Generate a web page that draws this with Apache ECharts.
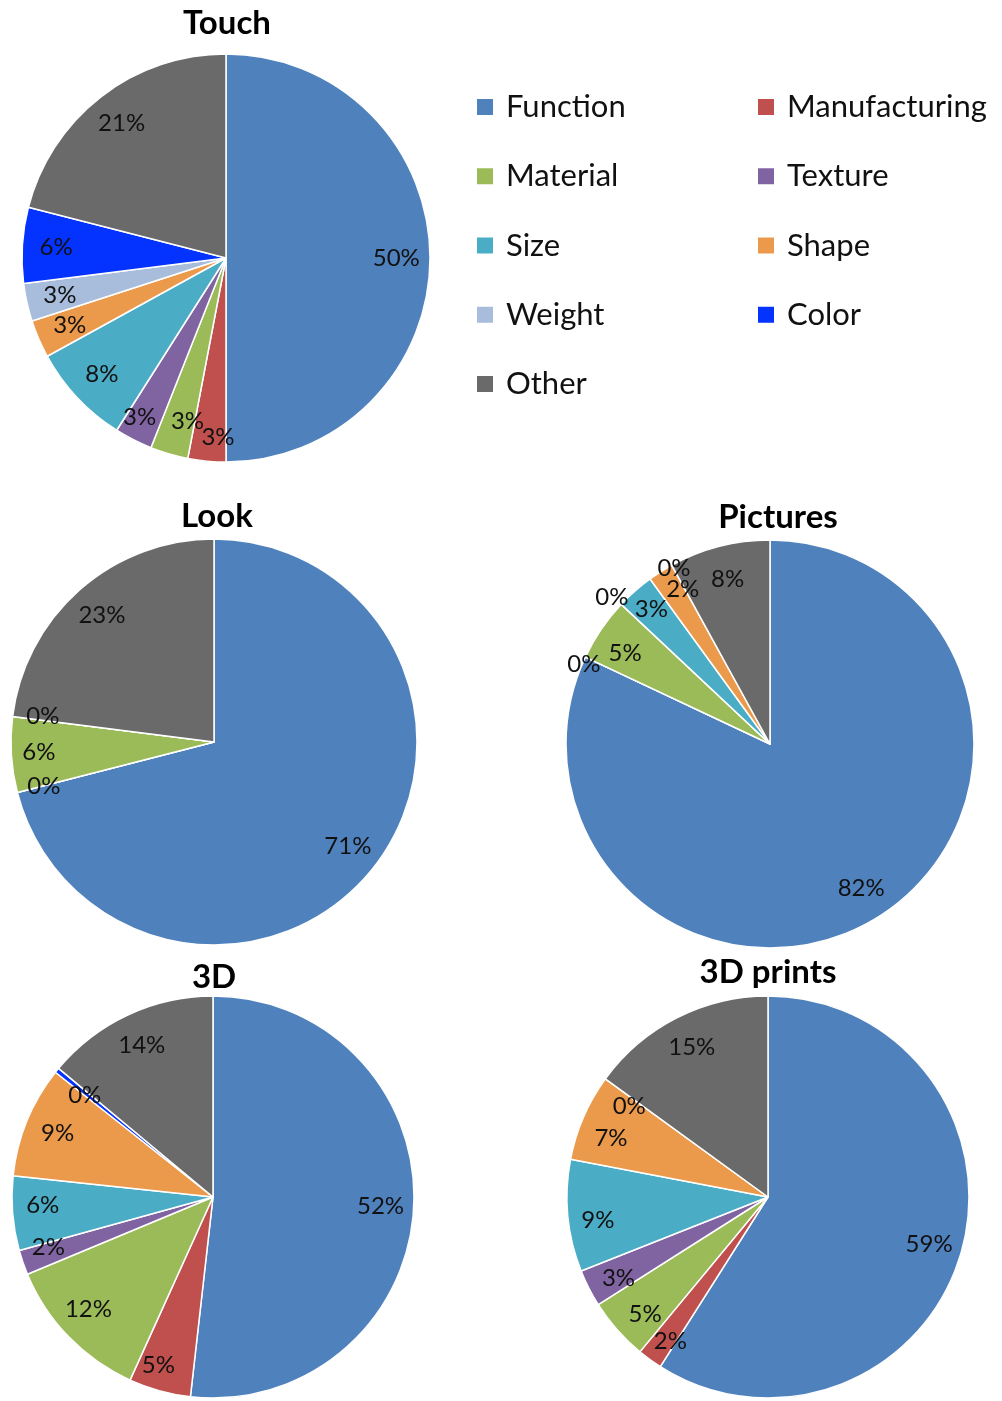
<!DOCTYPE html>
<html>
<head>
<meta charset="utf-8">
<script src="https://cdn.jsdelivr.net/npm/echarts@6/dist/echarts.min.js"></script>
<style>
html,body{margin:0;padding:0;background:#fff;}
#chart{width:1002px;height:1401px;}
</style>
</head>
<body>
<div id="chart"></div>
<script>
// ---- data ----
const categories = ['Function','Manufacturing','Material','Texture','Size','Shape','Weight','Color','Other'];
const chartTitles = ['Touch','Look','Pictures','3D','3D prints'];
const touchValues    = [50, 3, 3, 3, 8, 3, 3, 6, 21];
const lookValues     = [71, 0, 6, 0, null, null, null, null, 23];
const picturesValues = [82, 0, 5, 0, 3, 2, 0, null, 8];
const threeDValues   = [52, 5, 12, 2, 6, 9, null, 0.4, 14];
const printsValues   = [59, 2, 5, 3, 9, 7, 0, null, 15];
const allValues = [touchValues, lookValues, picturesValues, threeDValues, printsValues];

// ---- styles / layout ----
const colors = ['#4F81BD','#C0504D','#9BBB59','#8064A2','#4BACC6','#EB9A4C','#A8BCDB','#0432FF','#6A6A6A'];
const FONT = 'Lato, "Open Sans", sans-serif';
const pies = [
  {cx:226, cy:258, r:204, tx:222, ty:22.5,
   nudge:{Manufacturing:[8,10], Material:[9,0], Texture:[-9,8]}},
  {cx:214, cy:742, r:203, tx:212, ty:516,
   nudge:{Manufacturing:[-6,2], Material:[-6,0], Texture:[-3,-4]}},
  {cx:770, cy:744, r:204, tx:773, ty:516.5,
   nudge:{Manufacturing:[-32,-7], Material:[-4,5], Texture:[-34,-30], Size:[-6,-7], Shape:[4,-11], Weight:[-14,-27]}},
  {cx:213, cy:1197, r:201, tx:209, ty:977,
   nudge:{Manufacturing:[-10,6], Material:[-4,-5], Texture:[-6,-4], Size:[-3,-5], Color:[2,4]}},
  {cx:768, cy:1197, r:201, tx:763, ty:972,
   nudge:{Manufacturing:[1,8], Material:[3,6], Texture:[0,5], Size:[-3,7], Shape:[-3,8], Weight:[-3,8]}}
];

const series = [];
const titles = [];
allValues.forEach((vals, i) => {
  const p = pies[i];
  const data = [];
  vals.forEach((v, k) => {
    if (v === null) return;
    data.push({name: categories[k], value: v, itemStyle: {color: colors[k]}});
  });
  series.push({
    type: 'pie', center: [p.cx, p.cy], radius: [0, p.r],
    startAngle: 90, clockwise: true, silent: true, animation: false,
    label: {show: false}, labelLine: {show: false},
    itemStyle: {borderColor: '#fff', borderWidth: 1.5},
    emphasis: {disabled: true},
    data: data
  });
  series.push({
    type: 'pie', center: [p.cx, p.cy], radius: [p.r * 0.64, p.r],
    startAngle: 90, clockwise: true, silent: true, animation: false,
    avoidLabelOverlap: false,
    label: {show: true, position: 'inside', color: '#111', fontSize: 24, fontFamily: FONT,
      formatter: (q) => Math.round(q.value) + '%'},
    labelLine: {show: false},
    labelLayout: (params) => {
      const n = p.nudge[data[params.dataIndex].name];
      return n ? {dx: n[0], dy: n[1], hideOverlap: false} : {hideOverlap: false};
    },
    itemStyle: {color: 'rgba(0,0,0,0)', borderWidth: 0},
    emphasis: {disabled: true},
    data: data.map(d => ({name: d.name, value: d.value}))
  });
  titles.push({
    text: chartTitles[i], left: p.tx, top: p.ty - 21, textAlign: 'center',
    textStyle: {fontSize: 33, fontWeight: 'bold', color: '#000', fontFamily: FONT}
  });
});

function legendFor(names, left) {
  return {
    orient: 'vertical', left: left, top: 87, padding: 0,
    icon: 'rect', itemWidth: 18, itemHeight: 18, itemGap: 29.25,
    selectedMode: false,
    textStyle: {fontSize: 31, lineHeight: 34, color: '#111', fontFamily: FONT, padding: [6,0,0,7]},
    data: names.map(n => ({name: n, itemStyle: {color: colors[categories.indexOf(n)]}}))
  };
}

const chart = echarts.init(document.getElementById('chart'), null, {renderer: 'canvas'});
chart.setOption({
  backgroundColor: '#fff',
  animation: false,
  title: titles,
  legend: [
    legendFor(['Function','Material','Size','Weight','Other'], 475),
    legendFor(['Manufacturing','Texture','Shape','Color'], 756)
  ],
  series: series
});
</script>
</body>
</html>
